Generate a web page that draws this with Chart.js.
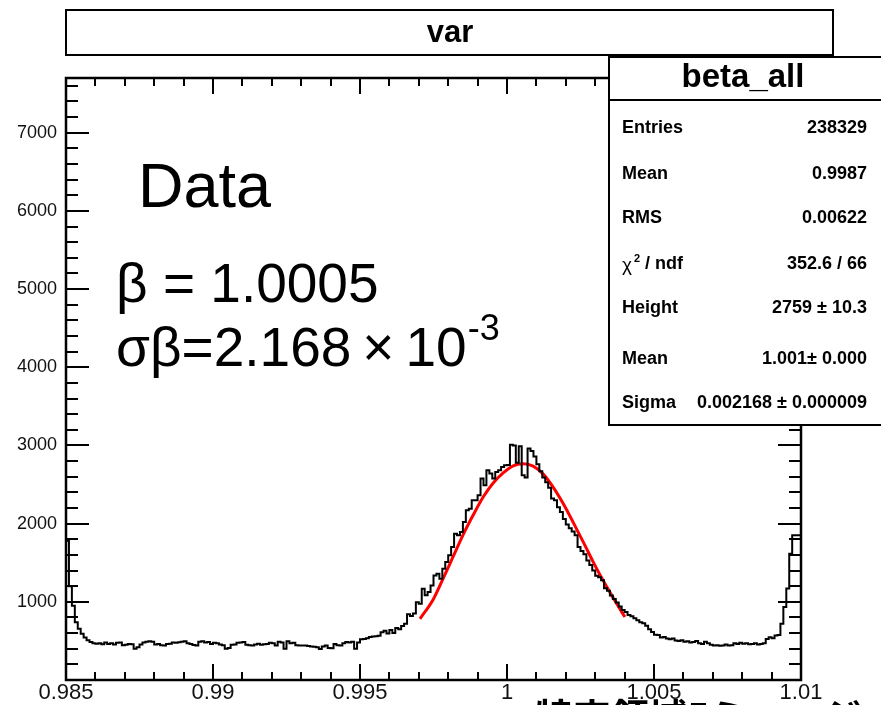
<!DOCTYPE html>
<html>
<head>
<meta charset="utf-8">
<script src="https://cdn.jsdelivr.net/npm/chart.js@4.4.1/dist/chart.umd.min.js"></script>
<style>
  html, body { margin: 0; padding: 0; background: #fff; }
</style>
</head>
<body>
<canvas id="histChart" width="881" height="705"></canvas>
<script>
// histogram range and binning (250 bins of 0.0001)
const xMin = 0.985, xMax = 1.01, binWidth = 0.0001;
const yMin = 0, yMax = 7700;

// bin contents
const countsLeftEdge = [1810, 1780, 1200, 950, 740, 655, 590, 545, 510, 485, 470, 465];
const countsFloorLeft = [
  470, 458, 480, 460, 470, 455, 475, 480, 445, 450, 462, 458, 400, 420, 455, 480, 490, 495, 488,
  455, 460, 445, 440, 460, 465, 480, 478, 482, 490, 495, 470, 460, 448, 440, 490, 495, 480, 485, 462,
  475, 470, 455, 445, 400, 410, 450, 455, 475, 480, 485, 450, 445, 440, 455, 465, 450, 458, 462, 478,
  470, 440, 490, 480, 400, 495, 470, 475, 445, 440, 442, 440, 435, 430, 425, 420, 398, 430, 440, 410,
  405, 460, 445, 440, 470, 485, 480, 490, 400, 480, 520, 525, 535, 550, 555, 560, 565, 610
];
const countsPeak = [
  630, 595, 640, 600, 665, 650, 690, 720, 840, 820,
  850, 995, 975, 1168, 1083, 1125, 1210, 1338, 1360, 1295,
  1424, 1509, 1595, 1700, 1872, 1850, 1893, 2022, 2171, 2192,
  2299, 2299, 2363, 2577, 2491, 2683, 2640, 2577, 2662, 2683,
  2726, 2748, 2750, 3010, 3000, 2780, 2990, 2620, 2590, 2960,
  2930, 2860, 2760, 2670, 2590, 2530, 2460, 2320, 2300, 2210,
  2150, 2060, 1990, 1940, 1900, 1850, 1700, 1650, 1610, 1530,
  1470, 1400, 1335, 1315, 1275, 1175, 1140, 1080, 1035, 990,
  940, 895, 870, 830, 815, 790, 765, 740, 725, 695
];
const countsTailRight = [
  650, 615, 580, 575, 545, 550, 530, 520, 530, 505, 500, 510, 490, 495, 480, 485, 500, 470, 462, 490,
  470, 450, 440, 445, 438, 442, 455, 440, 445, 470, 460, 475, 465, 470, 458, 462, 470, 455, 462, 470,
  526, 547, 534, 568, 575, 720, 935, 1170, 1615, 1850
];
const counts = [].concat(countsLeftEdge, countsFloorLeft, countsPeak, countsTailRight);

// gaussian fit curve
const fitX = [0.99704, 0.99749, 0.99783, 0.99817, 0.99851, 0.99885, 0.99919, 0.99953, 0.99987, 1.00021,
  1.00055, 1.00089, 1.00124, 1.00158, 1.00192, 1.00226, 1.00260, 1.00294, 1.00328, 1.00362, 1.00401];
const fitY = [782, 1030, 1300, 1580, 1860, 2110, 2340, 2520, 2650, 2740,
  2765, 2735, 2630, 2460, 2250, 2010, 1760, 1505, 1265, 1045, 805];

// axis labels
const xTickValues = [0.985, 0.99, 0.995, 1.0, 1.005, 1.01];
const xTickLabels = ['0.985', '0.99', '0.995', '1', '1.005', '1.01'];
const yTickValues = [1000, 2000, 3000, 4000, 5000, 6000, 7000];
const yTickLabels = ['1000', '2000', '3000', '4000', '5000', '6000', '7000'];

// stats box
const statLabels = ['Entries', 'Mean', 'RMS', 'chi2', 'Height', 'Mean', 'Sigma'];
const statValues = ['238329', '0.9987', '0.00622', '352.6 / 66', '2759 \u00b1 10.3', '1.001\u00b1 0.000', '0.002168 \u00b1 0.000009'];
const statRowsY = [128, 174, 218, 264, 308, 359, 403];

const histData = counts.map((c, i) => ({ x: xMin + i * binWidth, y: c }));
histData.push({ x: xMax, y: counts[counts.length - 1] });
const fitData = fitX.map((v, i) => ({ x: v, y: fitY[i] }));

const FONT = '"Liberation Sans", Arial, sans-serif';

// ROOT style frame, inward ticks, title box, stats box and overlay text
const rootDecor = {
  id: 'rootDecor',
  afterDraw(chart) {
    const { ctx, chartArea: a } = chart;
    const xs = chart.scales.x, ys = chart.scales.y;
    ctx.save();
    ctx.strokeStyle = '#000';
    ctx.fillStyle = '#000';

    // ticks
    ctx.lineWidth = 2;
    ctx.beginPath();
    for (let k = 0; k <= 25; k++) {
      const px = Math.round(xs.getPixelForValue(xMin + k * 0.001));
      const len = k % 5 === 0 ? 16 : 8;
      ctx.moveTo(px, a.bottom); ctx.lineTo(px, a.bottom - len);
      ctx.moveTo(px, a.top); ctx.lineTo(px, a.top + len);
    }
    for (let k = 1; k * 200 < yMax; k++) {
      const py = Math.round(ys.getPixelForValue(k * 200));
      const len = k % 5 === 0 ? 23 : 12;
      ctx.moveTo(a.left, py); ctx.lineTo(a.left + len, py);
      ctx.moveTo(a.right, py); ctx.lineTo(a.right - len, py);
    }
    ctx.stroke();

    // frame
    ctx.lineWidth = 2.5;
    ctx.strokeRect(a.left, a.top, a.right - a.left, a.bottom - a.top);

    // title box
    ctx.fillStyle = '#fff';
    ctx.fillRect(66, 10, 767, 45);
    ctx.lineWidth = 2;
    ctx.strokeRect(66, 10, 767, 45);
    ctx.fillStyle = '#000';
    ctx.font = 'bold 31px ' + FONT;
    ctx.textAlign = 'center';
    ctx.textBaseline = 'middle';
    ctx.fillText('var', 450, 33);

    // stats box
    ctx.fillStyle = '#fff';
    ctx.fillRect(609, 57, 290, 368);
    ctx.lineWidth = 2;
    ctx.strokeRect(609, 57, 290, 368);
    ctx.beginPath();
    ctx.moveTo(609, 100); ctx.lineTo(881, 100);
    ctx.stroke();
    ctx.fillStyle = '#000';
    ctx.font = 'bold 33px ' + FONT;
    ctx.fillText('beta_all', 743, 78);

    statLabels.forEach((lab, i) => {
      const yy = statRowsY[i];
      ctx.font = 'bold 18px ' + FONT;
      ctx.textAlign = 'left';
      if (lab === 'chi2') {
        ctx.font = '19px ' + FONT;
        ctx.fillText('\u03c7', 622, yy + 2);
        ctx.font = 'bold 11px ' + FONT;
        ctx.fillText('2', 634, yy - 5);
        ctx.font = 'bold 18px ' + FONT;
        ctx.fillText(' / ndf', 640, yy);
      } else {
        ctx.fillText(lab, 622, yy);
      }
      ctx.textAlign = 'right';
      ctx.fillText(statValues[i], 867, yy);
    });

    // overlay annotations
    ctx.textAlign = 'left';
    ctx.textBaseline = 'alphabetic';
    ctx.font = '63px ' + FONT;
    ctx.fillText('Data', 138, 207);
    ctx.font = '55px ' + FONT;
    ctx.fillText('\u03b2 = 1.0005', 116, 302);
    const s = '\u03c3\u03b2=2.168\u2009\u00d7\u200910';
    ctx.fillText(s, 116, 366);
    const w = ctx.measureText(s).width;
    ctx.font = '36px ' + FONT;
    ctx.fillText('-3', 116 + w + 1, 340);

    // caption cut off by the bottom edge
    ctx.font = 'bold 38px "Noto Sans CJK JP", sans-serif';
    ctx.fillText('\u7279\u5b9a\u9818\u57df5\u30df\u30e5\u30fc\u30b8', 535, 731);
    ctx.restore();
  }
};

const config = {
  type: 'line',
  data: {
    datasets: [
      {
        label: 'beta_all',
        data: histData,
        stepped: 'after',
        borderColor: '#000',
        borderWidth: 2,
        pointRadius: 0,
        fill: false,
      },
      {
        label: 'fit',
        data: fitData,
        borderColor: '#ff0000',
        borderWidth: 3,
        pointRadius: 0,
        cubicInterpolationMode: 'monotone',
        fill: false,
      },
    ],
  },
  options: {
    responsive: false,
    animation: false,
    layout: { padding: { top: 78, right: 80, left: 0, bottom: 0 } },
    plugins: { legend: { display: false }, tooltip: { enabled: false } },
    scales: {
      x: {
        type: 'linear',
        min: xMin,
        max: xMax,
        grid: { display: false, drawTicks: false },
        border: { display: false },
        afterBuildTicks: (s) => { s.ticks = xTickValues.map((v) => ({ value: v })); },
        afterFit: (s) => { s.height = 25; },
        ticks: {
          padding: 0,
          maxRotation: 0,
          autoSkip: false,
          color: '#111',
          font: { family: FONT, size: 22 },
          callback: (v, i) => xTickLabels[i],
        },
      },
      y: {
        min: yMin,
        max: yMax,
        grid: { display: false, drawTicks: false },
        border: { display: false },
        afterBuildTicks: (s) => { s.ticks = yTickValues.map((v) => ({ value: v })); },
        afterFit: (s) => { s.width = 66; },
        ticks: {
          padding: 9,
          autoSkip: false,
          color: '#111',
          font: { family: FONT, size: 18 },
          callback: (v, i) => yTickLabels[i],
        },
      },
    },
  },
  plugins: [rootDecor],
};

const ctx = document.getElementById('histChart').getContext('2d');
new Chart(ctx, config);
</script>
</body>
</html>
